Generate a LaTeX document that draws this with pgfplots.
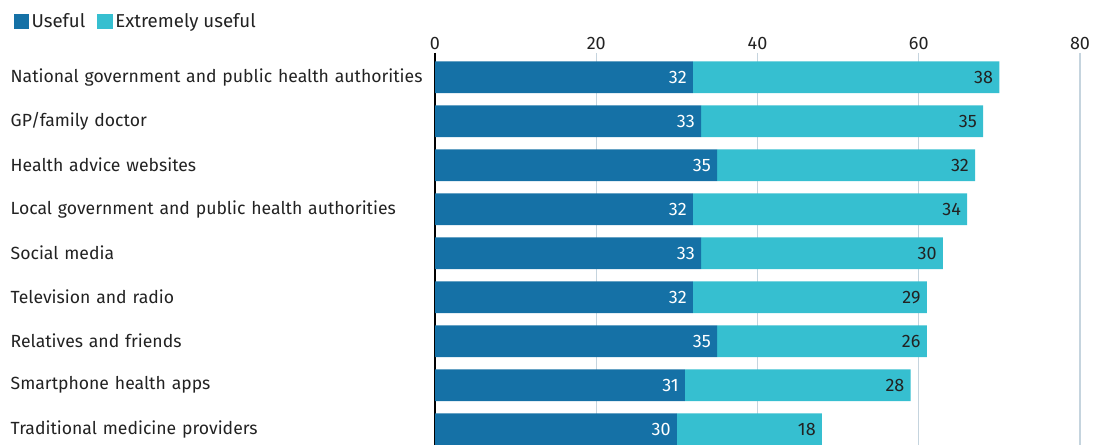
\documentclass[border=0pt]{standalone}
\usepackage{pgfplots}
\pgfplotsset{compat=1.18}
\usepackage{fontspec}
\setmainfont{Fira Sans}
\definecolor{dblue}{HTML}{1571A6}
\definecolor{lblue}{HTML}{36BFD0}
\definecolor{gridc}{HTML}{C5D4DE}
\definecolor{txt}{HTML}{222222}
\newcommand{\lblfont}{\fontsize{13.2}{15}\selectfont}
\newcommand{\numfont}{\fontsize{13.5}{15}\selectfont}
\begin{document}
\begin{tikzpicture}
\begin{axis}[
  at={(326.25pt,0pt)}, anchor=south west,
  scale only axis, width=483.75pt, height=294pt,
  xbar stacked, bar width=0.72,
  xmin=0, xmax=80, ymin=-0.55, ymax=8.36, y dir=reverse,
  xtick={0,20,40,60,80},
  xticklabel pos=upper,
  ytick={0,...,8},
  yticklabels={National government and public health authorities,
    GP/family doctor, Health advice websites,
    Local government and public health authorities, Social media,
    Television and radio, Relatives and friends,
    Smartphone health apps, Traditional medicine providers},
  /pgf/number format/assume math mode=true,
  xmajorgrids, grid style={gridc, line width=0.8pt},
  axis line style={draw=none}, major tick length=0pt,
  tick label style={font=\lblfont, text=txt},
  xticklabel style={font=\numfont, yshift=-1pt},
  yticklabel style={anchor=east, text width=310pt, align=left, inner sep=0pt, xshift=-8pt},
  point meta=rawx,
  visualization depends on={rawx \as \rawx},
  nodes near coords={\pgfmathprintnumber[assume math mode=true]{\pgfplotspointmeta}},
  every node near coord/.append style={anchor=east, xshift=\rawx*3.0234375pt-1.2pt, font=\numfont},
  legend style={at={(-0.66,1.115)}, anchor=north west, draw=none, fill=none,
    legend columns=2, font=\fontsize{14}{16}\selectfont, text=txt,
    /tikz/every even column/.append style={column sep=7pt}},
  legend image code/.code={\fill[#1] (0pt,-5.8pt) rectangle (11.5pt,5.8pt);},
  clip=false,
]
\addplot[fill=dblue, draw=none, every node near coord/.append style={text=white}] table[x=v, y=c] {
c v
0 32
1 33
2 35
3 32
4 33
5 32
6 35
7 31
8 30
};
\addlegendentry{Useful}
\addplot[fill=lblue, draw=none, every node near coord/.append style={text=txt}] table[x=v, y=c] {
c v
0 38
1 35
2 32
3 34
4 30
5 29
6 26
7 28
8 18
};
\addlegendentry{Extremely useful}
\draw[black, line width=1.2pt] (axis cs:0,-0.55) -- (axis cs:0,8.36);
\end{axis}
\pgfresetboundingbox
\path (0,0) rectangle (829.5pt,333.75pt);
\end{tikzpicture}
\end{document}
